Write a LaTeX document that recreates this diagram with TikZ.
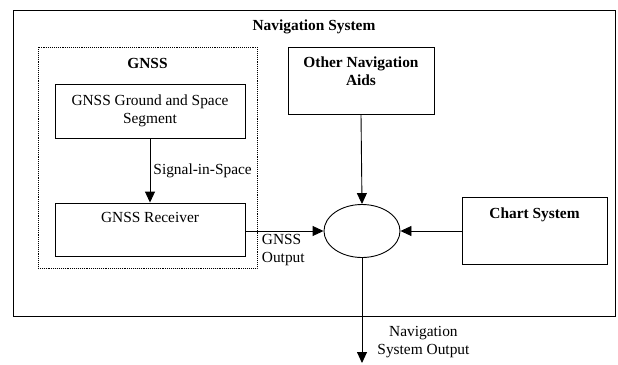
\documentclass[tikz,border=0pt]{standalone}
\usepackage{fontspec}
\setmainfont{Liberation Serif}
\usetikzlibrary{shapes.geometric, arrows.meta, positioning}

\begin{document}
\begin{tikzpicture}[
  x=1pt, y=-1pt,
  font=\fontsize{15.4}{18}\selectfont,
  blk/.style={rectangle, draw, line width=0.9pt, align=center, inner sep=3pt},
  arr/.style={-{Triangle[length=11pt, width=10pt]}, line width=0.9pt},
  lbl/.style={align=center, inner sep=3pt},
  ttl/.style={font=\fontsize{15.4}{18}\selectfont\bfseries},
]
\useasboundingbox (0,0) rectangle (618,364);
% frames
\node[blk, minimum width=602pt, minimum height=306pt,
  label={[ttl, anchor=north, yshift=-7pt]north:Navigation System}]
  (navsys) at (314,163) {};
\node[blk, densely dotted, line width=0.7pt, minimum width=219pt, minimum height=221pt,
  label={[ttl, anchor=north, yshift=-8pt]north:GNSS}]
  (gnss) at (147.5,157.5) {};
% blocks
\node[blk, minimum width=190pt, minimum height=54pt]   (seg)   at (150,111)
  {GNSS Ground and Space\\Segment};
\node[blk, minimum width=190pt, minimum height=53pt, text depth=23.5pt] (rcv) at (150,229.5)
  {GNSS Receiver};
\node[blk, ttl, minimum width=146pt, minimum height=67pt, text depth=19.5pt] (aids) at (361,80.5)
  {Other Navigation\\Aids};
\node[blk, ttl, minimum width=145pt, minimum height=67pt, text depth=35.5pt] (chart) at (534.5,230.5)
  {Chart System};
\node[ellipse, draw, line width=0.9pt, minimum width=76pt, minimum height=53pt] (fuse) at (362,231) {};
\coordinate (out) at (362,363);
% connectors
\draw[arr] (seg.south) -- (rcv.north)
  node[midway, right, lbl] {Signal-in-Space};
\draw[arr] (rcv.east |- fuse) -- (fuse.west)
  node[pos=0, below right, lbl, align=left, xshift=13pt] {GNSS\\Output};
\draw[arr] (aids.south) -- (fuse.north);
\draw[arr] (chart.west |- fuse) -- (fuse.east);
\draw[arr] (fuse.south) -- (out)
  node[pos=0.8, right, lbl, xshift=12pt] {Navigation\\System Output};
\end{tikzpicture}
\end{document}
